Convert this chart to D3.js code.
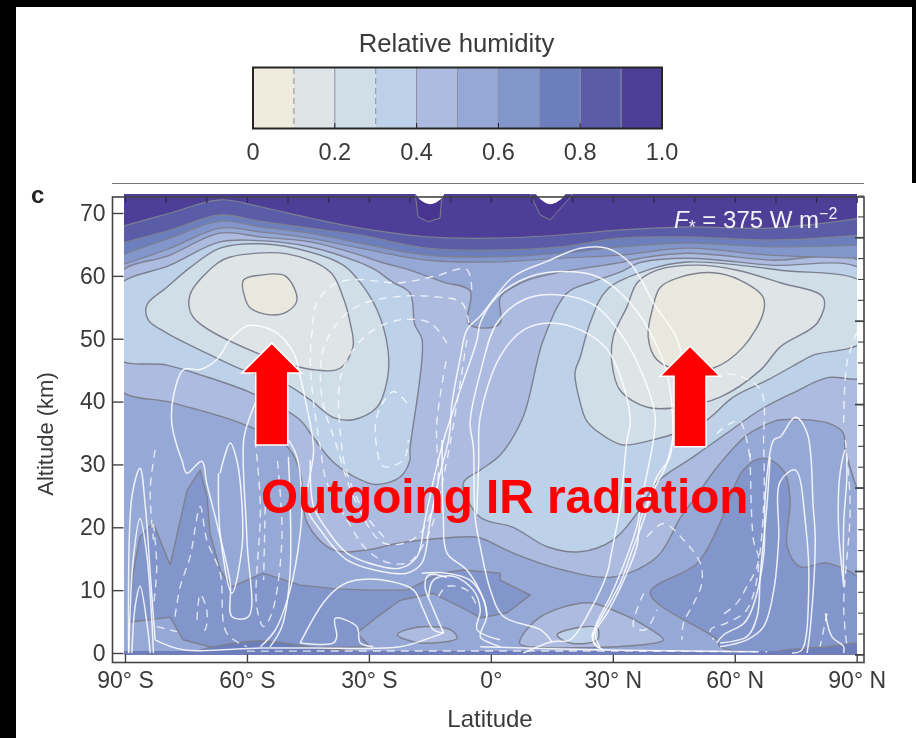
<!DOCTYPE html>
<html>
<head>
<meta charset="utf-8">
<script src="https://cdn.jsdelivr.net/npm/d3@7"></script>
<style>
  html, body { margin: 0; padding: 0; background: #fff; }
  svg { display: block; font-family: "Liberation Sans", Arial, sans-serif; }
</style>
</head>
<body>
<div id="chart"></div>
<script>
const binEdges = [0, 0.1, 0.2, 0.3, 0.4, 0.5, 0.6, 0.7, 0.8, 0.9, 1]
const binColors = ['#f0ebdd', '#dfe4e6', '#d0dee8', '#bdd2e8', '#acbbdf', '#96a8d6', '#8296cb', '#6c7fbc', '#5a5ca8', '#4d3f98']
const legendTicks = [0, 0.2, 0.4, 0.6, 0.8, 1]
const legendLabels = ['0', '0.2', '0.4', '0.6', '0.8', '1.0']
const latTicks = [-90, -60, -30, 0, 30, 60, 90]
const latLabels = ['90° S', '60° S', '30° S', '0°', '30° N', '60° N', '90° N']
const latMinor = [-90, -80, -70, -60, -50, -40, -30, -20, -10, 0, 10, 20, 30, 40, 50, 60, 70, 80, 90]
const altTicks = [0, 10, 20, 30, 40, 50, 60, 70]

// contours are [latitude, altitude km]
const topLats = [-91, -78.9, -66.6, -56.8, -44.5, -32.2, -15.7, 0.6, 17.1, 31.8, 48.3, 68.7, 91]
const top09 = [67.8, 70.0, 72.1, 71.0, 69.2, 67.6, 66.2, 66.0, 66.5, 67.3, 67.8, 67.6, 69.2]
const top08 = [65.2, 67.3, 69.7, 68.7, 67.6, 66.5, 64.4, 64.1, 64.6, 66.0, 66.2, 65.7, 66.5]
const top07 = [63.3, 66.0, 68.7, 67.8, 66.8, 65.2, 63.3, 63.0, 63.6, 64.6, 65.2, 64.6, 64.9]
const top06 = [61.7, 64.4, 67.6, 67.0, 66.0, 64.4, 62.5, 62.2, 62.8, 63.3, 64.4, 63.3, 62.8]

const ge06Left = [[-88,12.7],[-86.3,18.5],[-83.1,20.7],[-78.9,14],[-74.7,25.9],[-71.5,29.1],[-69.8,24.8],[-69.1,19.1],[-66.6,13.2],[-63.7,10.5],[-60,11.6],[-56,12.7],[-46.9,10.8],[-38,10.2],[-30.4,10],[-20.6,10],[-12.5,12.7],[-6.8,13.2],[2.3,12.7],[2.3,11.6],[9.7,9.2],[4,6.4],[-2.6,5.6],[-5.8,6.8],[-14.2,9.5],[-22.3,8.4],[-28,5.7],[-32.9,3.2],[-29.7,1],[-46.9,0.8],[-69.1,1],[-75.7,2.1],[-78.9,5.7],[-89.2,4.9]]
const ge06Right = [[39.2,9.5],[50.8,14.3],[56.4,20.7],[62.1,29.1],[67,31],[71.9,29.1],[73.6,24.3],[72.9,16.9],[76.1,13.7],[82.8,14.3],[92,10.8],[92,1],[56.4,1],[55.7,2.1]]
const lt05Main = [[-92,60],[-78.9,63.3],[-66.6,66.8],[-56.8,66.2],[-44.5,65.4],[-32.2,63.3],[-27.2,62.2],[-19.9,60.9],[-11.7,59],[-5.1,57.6],[-5.6,52.5],[-0.9,51.7],[2.3,52.5],[2.3,56.6],[5.5,58.2],[8.9,59.3],[17.1,60.6],[31.8,62.1],[36.7,62.8],[48.3,63.6],[68.7,62.5],[92,61.7],[92,23.9],[87.2,32.3],[86.7,35],[82.8,36.6],[71.2,37.1],[69.5,36.8],[63.1,34.7],[55.7,29.6],[49.8,24.3],[46.6,21.5],[40.9,15.3],[30.1,12.1],[17.8,13.2],[5.5,15.9],[-2.6,18.3],[-5.8,18.5],[-22.3,17.5],[-30.4,16.4],[-38.8,16.4],[-45.2,20.7],[-46.9,28.6],[-50.1,32.8],[-61.7,36.6],[-78.2,39.8],[-92,42.3]]
const lt05IslandRight = [[7.2,2.1],[12.1,5.7],[23.7,8],[30.1,6.8],[38.5,4.1],[42.4,2.1],[38.5,1.4],[7.2,1.4]]
const lt05IslandLeft = [[-23,2.9],[-18.1,4.1],[-10,3.7],[-8.3,2.4],[-17.4,1.6]]
const lt04Left = [[-92,58.1],[-78.9,61.7],[-66.6,65.4],[-56.8,65.6],[-44.5,64.6],[-32.2,62.1],[-28.3,60.9],[-24.2,59],[-19.9,57.3],[-18.7,52.2],[-16.9,49.8],[-19.9,32.3],[-19.9,30.7],[-22.3,28],[-28,26.8],[-32.2,27.6],[-38.8,30.4],[-43.8,34.4],[-47,37.1],[-58.7,41.3],[-71.7,44.3],[-79.7,45.8],[-92,47]]
const lt04Right = [[18.8,57.3],[24.4,58.9],[31.8,60.6],[36.7,62.1],[48.3,62.8],[68.7,61.7],[92,60.6],[92,44.1],[82.8,43.8],[74.4,41.4],[66.3,38.7],[58.1,35],[49.8,31.2],[40.9,27.2],[36,22.3],[30.1,18],[22,16.1],[13.9,16.9],[5.5,20],[-2.6,21.6],[-6.8,27],[-2.6,29.1],[2.3,31.5],[7.9,37.5],[12.9,49.8]]
const lt04Island = [[16.3,2.9],[22,4.1],[26.2,4],[26.2,2.1],[19.5,1.6]]
const lt03Left = [[-84.6,55.4],[-79.7,58.2],[-74,61.3],[-66.6,64.4],[-56.8,65.1],[-44.5,63.8],[-36.3,61.7],[-32.2,59],[-28,54.6],[-25.3,48.2],[-25.5,43.4],[-28,39.1],[-33.9,37.1],[-38.8,37.5],[-44.5,40.3],[-51.1,43],[-60.9,45],[-71.5,48.2],[-79.7,50.9],[-84.3,53]]
const lt03Right = [[28.6,57.8],[38.5,60.9],[48.3,62.2],[71.2,60.9],[92,58.6],[92,49.8],[79.3,47.4],[76.9,46.6],[68,43.4],[59.6,40.7],[53.2,37.1],[46.6,35.2],[39.9,33.9],[32.6,33.1],[28.6,34.2],[23.7,36.8],[22,39.8],[20.7,44.6],[22,47.1],[24.4,52.5]]
const lt02Left = [[-74,57],[-67.3,62],[-64.1,63],[-50.1,63.5],[-39.5,60.6],[-36.3,56.5],[-34.6,52.5],[-33.9,48.7],[-37.1,45.3],[-42.7,45],[-57.5,47.7],[-73.3,53.5]]
const lt02Right = [[29.8,46.1],[30.1,50.3],[33.5,55.1],[36,58.9],[40.9,60.9],[50.8,61.7],[60.6,60.9],[71.2,58.9],[81.8,56.5],[80.3,52.5],[71.2,48.7],[66.3,45],[56.4,40.7],[46.6,39.1],[38.5,39.1],[31.8,41.8]]
const lt01Left = [[-60.9,59.3],[-56.8,60.1],[-50.6,60],[-47.7,56.2],[-50.1,54.3],[-54.3,53.8],[-59.2,54.9],[-60.5,56.5]]
const lt01Right = [[41.7,58.2],[46.6,59.8],[54.7,60.5],[61.4,59.3],[67,56.6],[67,54.1],[62.1,48.7],[54.7,45.3],[46.6,45],[40.9,46.6],[38.7,50.3],[39.9,55.1]]
const lensLeft = [[-72.3,0.2],[-57.5,1.9],[-42.7,0.8],[-30.4,0],[-50,-0.6]]
const lensRight = [[69.5,0],[82.8,1],[92,1.3],[92,-0.6],[69.5,-0.6]]
const bottomStrip = [[-92,0.3],[92,0.3],[92,-0.6],[-92,-0.6]]
const darkPatchA = [[-18.6,73],[-17.9,69.4],[-15.4,68.6],[-12.5,69.2],[-12,73]]
const darkPatchB = [[9.7,73],[12.1,69.7],[14.6,68.9],[20.2,73]]
const whiteNotchA = [[-18.4,73.2],[-17.4,72.1],[-14.9,71.4],[-12.5,72.1],[-11.5,73.2]]
const whiteNotchB = [[11.1,73.2],[12.4,72.1],[14.6,71.4],[17.1,72.1],[18.3,73.2]]

// streamlines
const solidA = [[26.9,0.8],[25.7,3.2],[28.6,6.3],[32.7,11.6],[35.9,16.9],[36.8,21.2],[40.9,27],[43.3,30.2],[46.6,48.3],[40,55.7],[34.3,62],[28.6,64.4],[22,64.4],[13.8,62.3],[5.6,59.9],[-2.6,53.6],[-5.9,51.4],[-7.5,47],[-9.5,40],[-10.4,33.9],[-12.5,28.6],[-14.9,21.2],[-17,14.3],[-20.7,12.7],[-27.2,13],[-35.4,14.8],[-42,19.6],[-45.3,23.3],[-43.6,32.4],[-45.3,39.2],[-46.9,44],[-48.5,47.7],[-52.6,50.9],[-56.7,52],[-60,52],[-64.1,49.9],[-67.4,46.7],[-71.5,45.1],[-75.6,45.1],[-78.1,40.8],[-78.5,36.6],[-77.2,32.9],[-76,30.7],[-74.8,28.6],[-71.1,30.5],[-69.9,27],[-67.4,20.6],[-64.1,11.1],[-63.7,5.8],[-59.6,5.8],[-60,18],[-60.8,33.9],[-59.2,37.7],[-57.6,40.3]]
const solidB = [[26.5,0.8],[24.9,2.6],[26.9,5.3],[31.8,11.1],[35.1,16.9],[37.6,21.2],[40.9,28.1],[44.1,31.3],[44.1,41.9],[40.9,48.8],[34.3,55.7],[26.1,59.9],[17.9,60.7],[9.7,59.9],[1.5,56.7],[-2.6,52.5],[-3.4,49.8],[-7.5,41.9],[-11.6,33.9],[-13.7,28.6],[-16.2,21.2],[-18.2,15.3],[-22.3,13.5],[-27.2,13.8],[-35.4,15.9],[-40.3,19.6],[-43.6,23.3],[-44.4,30.7]]
const solidC = [[27.7,0.5],[25.3,1.6],[25.7,4.2],[29.4,9],[33.5,15.4],[35.9,20.1],[37.6,26],[40,33.9],[40.4,37.7],[36.8,45.1],[31.8,50.9],[25.3,55.4],[16.3,57],[8.1,56.2],[1.5,52.5],[-2.6,44.6],[-5.1,36.6],[-4.3,32.8],[-3.9,21.7],[-2.6,16.9],[-0.1,10],[3.1,5.8],[12.2,3.7],[15,1.8]]
const solidD = [[8,0],[15,1.8],[19.5,2.1],[24.5,6.9],[28.6,12.7],[29.8,16.4],[31.8,23.3],[33.5,33.9],[34.3,36.6],[32.7,42.4],[28.6,48.3],[22,51.4],[14.6,52.5],[8.1,51.4],[2.3,47.2],[-2.6,37.7],[-3,30],[-3.5,22]]
const solidE = [[-12,33.9],[-11.7,21.7],[-10.8,15.9],[-5.9,13.2],[-1.8,8.5],[-1,5.8],[-2.6,2.6],[-0.2,1.6],[2.3,1]]
const pairA = [[-56.7,1],[-53,3.7],[-49.4,10],[-46.9,19],[-46.5,23.3],[-47.7,31.2],[-49.8,33.9]]
const pairB = [[-54.3,1],[-51.4,4.2],[-49.4,12.7],[-49.8,31.2]]
const tangleA = [[-17,12.7],[-10.8,12.7],[-5.1,11.6],[-1.8,8.5],[-1,5.8]]
const tangleB = [[-15.3,9],[-14.1,11.6],[-9.2,12.2],[-4.3,10],[-2.6,6.9],[-3.4,3.7],[2.3,2.1]]
const tangleC = [[-11.6,3.2],[-14.1,6.9],[-16.2,10.6],[-15.3,12.4],[-10.8,12]]
const floorLine = [[-11.6,3.2],[-14.1,2.6],[-22.3,1],[-43.6,0.8],[-56.7,0.8],[-75.6,0.5],[-82.6,2.1]]
const floorLineRight = [[-2.6,1],[26.1,0.5],[65.4,0.2]]
const humpA = [[-46.9,1.6],[-41.2,8],[-37.1,10.6],[-33,11.6],[-24.8,11.4],[-19,10],[-16.6,6.9],[-14.1,3.7],[-11.6,3.2]]
const humpB = [[-46.9,1.6],[-38.7,1.6],[-37.9,2.6],[-38.3,5.5],[-33,4.2],[-32.1,1.6],[-28.9,1]]
const spikeA = [[-89.1,0],[-88.3,24.9],[-86.3,29.4],[-85,23.3],[-83.8,12.7],[-82.6,2.1]]
const spikeB = [[-89.1,0],[-87.9,15.4],[-86.3,21.4],[-84.6,15.4],[-83,0]]
const spikeC = [[-88.3,0],[-87.5,7.4],[-86.3,10.6],[-84.6,4.7],[-83.8,0]]
const tipLoop = [[-66.6,28.6],[-64.1,33.4],[-62.5,30.7],[-61.2,23.3],[-61.2,16.9],[-63.7,9.5],[-66.6,19],[-67,28.6]]
const rightOuter = [[55.6,1.6],[57.3,2.9],[62.2,4.7],[64.2,6.9],[67.1,15.4],[67.5,24.9],[69.6,33.9],[71.2,34.4],[74.9,37.5],[77.8,35],[79.3,23.2],[79.8,18],[78.6,4.1],[77.8,0]]
const rightMiddle = [[56.4,1.6],[63,2.6],[65.5,5.8],[66.3,12.7],[67.9,23.3],[68.7,31.2]]
const rightInner = [[56.4,1],[63,2.1],[67.1,4.2],[69.6,10],[70.8,18],[71.2,27.3],[74.9,29.1],[77.4,20.6],[78.2,10],[76.5,0.5],[74.1,0]]
const edgeLoop = [[86.8,10.6],[85.5,20.6],[85.9,28.6],[87.2,32.3],[87.6,28.6],[86.8,20.6],[86.8,10.6]]
const edgeHook = [[82.3,6.3],[83.9,2.6],[86.8,1],[86.8,0]]
const solidLines = [solidA, solidB, solidC, solidD, solidE, pairA, pairB, tangleA, tangleB, tangleC, floorLine, floorLineRight, humpA, humpB, spikeA, spikeB, spikeC, tipLoop, rightOuter, rightMiddle, rightInner, edgeLoop, edgeHook]

const dashA = [[-4.7,57.8],[-5.9,61],[-14.1,59.9],[-22.3,58.9],[-33.8,59.4],[-38.7,58.6],[-42.8,55.7],[-44,50.9],[-44.4,46.1],[-43.6,39.8],[-42,32.9],[-40.3,27],[-35.4,21.2],[-30.5,16.4],[-24.8,14.3],[-19.8,14.6],[-14.9,19.6],[-10.8,30.7],[-5.9,49.8]]
const dashB = [[-5.5,52.5],[-7.1,55.7],[-14.1,56.7],[-23.1,56.7],[-32.1,55.4],[-37.1,53],[-41.2,48.3],[-41.6,40.8],[-37.9,32.9],[-33.8,24.9],[-26.4,17.5],[-18.2,18.5],[-13.3,25.9],[-13.3,36.6],[-10.8,47.2]]
const dashC = [[-10.8,49.3],[-14.9,52.5],[-22.3,53],[-28.9,51.4],[-33.8,48.3],[-37.1,43.5],[-36.7,32.9],[-35.4,28.6],[-30.5,21.7],[-25.6,18]]
const dashD = [[-20.7,39.8],[-24,41.6],[-28,37.7],[-28,32.4],[-26.4,29.7],[-21.5,30.7],[-20.3,33.9]]
const dashE = [[-58,33.9],[-56.7,23.3],[-57.6,7.4],[-55.9,4.2],[-53.9,6.3],[-51.4,18],[-52.6,31.2]]
const dashF = [[-55.5,23.3],[-55.9,11.6]]
const dashG = [[-82.6,32.3],[-83.8,25.9],[-83,18]]
const dashH = [[-77.7,5.8],[-76.4,10.6],[-74,15.3],[-71.5,23.3],[-69.9,18],[-66.6,12.7],[-65,3.2],[-60,1]]
const dashI = [[-72.3,5.3],[-71.5,9.3],[-69.9,6.9],[-70.3,3.7],[-72,3.2]]
const dashJ = [[-82.2,4.2],[-77.2,3.4]]
const dashK = [[-83,20.6],[-82.2,13.8],[-83,7.4]]
const dashM = [[38.4,18.5],[42.5,20.6],[47.4,18],[51.5,14.3],[51.9,11.1],[49.9,7.9],[47.4,4.8],[47,2.1]]
const dashN = [[54.8,44],[59.7,44.3],[66.3,41.9],[67.1,33.4],[67.1,23.3],[65.5,13.8],[63,10.6],[60.5,7.9],[56.4,5.8]]
const dashO = [[63.8,31.8],[64.6,18],[65.9,14.8],[63,6.9],[58.1,4.8],[54,3.7],[54.8,2.1]]
const dashP = [[37.6,9.5],[35.1,4.2],[38,3.7],[40.9,6.9]]
const dashQ = [[55.6,34.9],[58.8,36.5],[61.3,36.8],[63.8,30.7]]
const dashR = [[87.2,33.9],[88.4,23.3],[86.8,7.4],[87.6,1]]
const dashS = [[82.7,6.3],[81,1]]
const dashT = [[90,51],[87.6,46.1],[86.8,36.6]]
const dashU = [[-12.9,9],[-10.8,10.6],[-5.9,10],[-3.4,7.4]]
const dashFloor = [[-60,0.3],[30,0.3],[68,0.2]]
const dashedLines = [dashA, dashB, dashC, dashD, dashE, dashF, dashG, dashH, dashI, dashJ, dashK, dashM, dashN, dashO, dashP, dashQ, dashR, dashS, dashT, dashU, dashFloor]

const arrowLats = [-53.9, 49]
const arrowTips = [49.3, 48.8]
const arrowTails = [33.1, 32.8]

const WIDTH = 916
const HEIGHT = 738
const INK = '#3a3a3a'
const LINE = '#7d8090'

const svg = d3.select('#chart').append('svg')
  .attr('width', WIDTH)
  .attr('height', HEIGHT)

svg.append('rect').attr('width', WIDTH).attr('height', HEIGHT).attr('fill', '#fff')

const x = d3.scaleLinear().domain([-90, 90]).range([125, 856.7])
const y = d3.scaleLinear().domain([0, 70]).range([653, 213])

const closed = d3.line().x(d => x(d[0])).y(d => y(d[1])).curve(d3.curveCatmullRomClosed.alpha(0.5))
const straight = d3.line().x(d => x(d[0])).y(d => y(d[1]))
const open = d3.line().x(d => x(d[0])).y(d => y(d[1])).curve(d3.curveCatmullRom.alpha(0.5))

svg.append('defs').append('clipPath').attr('id', 'plot')
  .append('rect')
    .attr('x', 124)
    .attr('y', 194)
    .attr('width', 733)
    .attr('height', 461)

const chart = svg.append('g').style('filter', 'blur(0.45px)')

// legend
const legendX = d3.scaleLinear().domain([0, 1]).range([253, 662])
const legend = chart.append('g')

legend.selectAll('rect.bin')
  .data(binColors)
  .enter().append('rect')
    .attr('class', 'bin')
    .attr('x', (d, i) => legendX(binEdges[i]))
    .attr('y', 68)
    .attr('width', (d, i) => legendX(binEdges[i + 1]) - legendX(binEdges[i]))
    .attr('height', 60)
    .attr('fill', d => d)

legend.selectAll('line.sep')
  .data(binEdges.slice(1, -1))
  .enter().append('line')
    .attr('class', 'sep')
    .attr('x1', d => legendX(d))
    .attr('x2', d => legendX(d))
    .attr('y1', 68)
    .attr('y2', 128)
    .attr('stroke', '#8a8f9c')
    .attr('stroke-width', 1)
    .attr('stroke-dasharray', d => (d === 0.1 || d === 0.3) ? '6 4' : null)

legend.selectAll('line.tick')
  .data(legendTicks.slice(1, -1))
  .enter().append('line')
    .attr('class', 'tick')
    .attr('x1', d => legendX(d))
    .attr('x2', d => legendX(d))
    .attr('y1', 123)
    .attr('y2', 128)
    .attr('stroke', '#222')

legend.append('rect')
  .attr('x', 253)
  .attr('y', 67.5)
  .attr('width', 409)
  .attr('height', 61)
  .attr('fill', 'none')
  .attr('stroke', '#262626')
  .attr('stroke-width', 2)

legend.selectAll('text.lab')
  .data(legendTicks)
  .enter().append('text')
    .attr('class', 'lab')
    .attr('x', d => legendX(d))
    .attr('y', 160)
    .attr('text-anchor', 'middle')
    .attr('font-size', 23.5)
    .attr('fill', INK)
    .text((d, i) => legendLabels[i])

legend.append('text')
  .attr('x', 456.5)
  .attr('y', 52)
  .attr('text-anchor', 'middle')
  .attr('font-size', 25.7)
  .attr('fill', INK)
  .text('Relative humidity')

chart.append('line')
  .attr('x1', 112)
  .attr('x2', 864)
  .attr('y1', 183.5)
  .attr('y2', 183.5)
  .attr('stroke', '#777')

chart.append('text')
  .attr('x', 31)
  .attr('y', 203)
  .attr('font-size', 24)
  .attr('font-weight', 'bold')
  .attr('fill', '#222')
  .text('c')

// filled bands, painted from the base colour up
const plot = chart.append('g').attr('clip-path', 'url(#plot)')

plot.append('rect')
  .attr('x', x(-92))
  .attr('y', y(74))
  .attr('width', x(92) - x(-92))
  .attr('height', y(-1) - y(74))
  .attr('fill', binColors[5])

const bands = [
  [ge06Left, binColors[6], true],
  [ge06Right, binColors[6]],
  [lensLeft, binColors[7]],
  [lensRight, binColors[7]],
  [lt05Main, binColors[4]],
  [lt05IslandLeft, binColors[4]],
  [lt05IslandRight, binColors[4]],
  [lt04Left, binColors[3]],
  [lt04Right, binColors[3]],
  [lt04Island, binColors[3]],
  [lt03Left, binColors[2]],
  [lt03Right, binColors[2]],
  [lt02Left, binColors[1]],
  [lt02Right, binColors[1]],
  [lt01Left, '#e9e8df'],
  [lt01Right, '#e9e8df']
]

plot.selectAll('path.band')
  .data(bands)
  .enter().append('path')
    .attr('class', 'band')
    .attr('d', d => d[2] ? straight(d[0]) + 'Z' : closed(d[0]))
    .attr('fill', d => d[1])
    .attr('stroke', LINE)
    .attr('stroke-width', 1.4)
    .attr('stroke-linejoin', 'round')

const topBands = [[top06, binColors[6]], [top07, binColors[7]], [top08, binColors[8]], [top09, binColors[9]]]

plot.selectAll('path.top')
  .data(topBands)
  .enter().append('path')
    .attr('class', 'top')
    .attr('d', d => {
      const pts = topLats.map((lat, i) => [lat, d[0][i]])
      return open(pts) + 'L' + x(92) + ',' + y(75) + 'L' + x(-92) + ',' + y(75) + 'Z'
    })
    .attr('fill', d => d[1])
    .attr('stroke', LINE)
    .attr('stroke-width', 1.2)

plot.selectAll('path.patch')
  .data([darkPatchA, darkPatchB])
  .enter().append('path')
    .attr('class', 'patch')
    .attr('d', d => straight(d) + 'Z')
    .attr('fill', '#483592')
    .attr('stroke', LINE)

plot.append('path')
  .attr('d', straight(bottomStrip) + 'Z')
  .attr('fill', '#6f7dba')

plot.selectAll('path.solid')
  .data(solidLines)
  .enter().append('path')
    .attr('class', 'solid')
    .attr('d', d => open(d))
    .attr('fill', 'none')
    .attr('stroke', '#fff')
    .attr('stroke-opacity', 0.85)
    .attr('stroke-width', 1.5)

plot.selectAll('path.dashed')
  .data(dashedLines)
  .enter().append('path')
    .attr('class', 'dashed')
    .attr('d', d => open(d))
    .attr('fill', 'none')
    .attr('stroke', '#fff')
    .attr('stroke-opacity', 0.75)
    .attr('stroke-width', 1.4)
    .attr('stroke-dasharray', '8 6')

plot.selectAll('path.notch')
  .data([whiteNotchA, whiteNotchB])
  .enter().append('path')
    .attr('class', 'notch')
    .attr('d', d => closed(d))
    .attr('fill', '#fff')

// frame and axes
const frame = chart.append('g')

frame.append('rect')
  .attr('x', 112.5)
  .attr('y', 197)
  .attr('width', 751.5)
  .attr('height', 465.5)
  .attr('fill', 'none')
  .attr('stroke', '#444')
  .attr('stroke-width', 1.6)

const xAxisCall = d3.axisBottom(x)
  .tickValues(latTicks)
  .tickFormat((d, i) => latLabels[i])
  .tickSize(-8)
  .tickPadding(9)
frame.append('g')
  .attr('transform', 'translate(0, 662.5)')
  .call(xAxisCall)
  .call(g => g.select('.domain').remove())
  .call(g => g.selectAll('line').attr('stroke', '#444').attr('stroke-width', 1.4))
  .call(g => g.selectAll('text').attr('font-size', 23).attr('font-family', null).attr('fill', INK))

const yAxisCall = d3.axisLeft(y)
  .tickValues(altTicks)
  .tickSize(-11)
  .tickPadding(7)
frame.append('g')
  .attr('transform', 'translate(112.5, 0)')
  .call(yAxisCall)
  .call(g => g.select('.domain').remove())
  .call(g => g.selectAll('line').attr('stroke', '#444').attr('stroke-width', 1.4))
  .call(g => g.selectAll('text').attr('font-size', 23).attr('font-family', null).attr('fill', INK))

const xTopCall = d3.axisTop(x).tickValues(latMinor).tickSize(-6).tickFormat('')
frame.append('g')
  .attr('transform', 'translate(0, 197)')
  .call(xTopCall)
  .call(g => g.select('.domain').remove())
  .call(g => g.selectAll('line').attr('stroke', '#2c2a4a').attr('stroke-width', 1.2))

// right axis is on another scale, one long tick in four
const rightTicks = d3.range(0, 23).map(i => -0.3 + i * 3.318)
frame.selectAll('line.right')
  .data(rightTicks)
  .enter().append('line')
    .attr('class', 'right')
    .attr('x1', 864)
    .attr('x2', (d, i) => i % 4 === 0 ? 855 : 858)
    .attr('y1', d => y(d))
    .attr('y2', d => y(d))
    .attr('stroke', '#444')
    .attr('stroke-width', (d, i) => i % 4 === 0 ? 1.8 : 1.1)

chart.append('text')
  .attr('x', 490)
  .attr('y', 727)
  .attr('text-anchor', 'middle')
  .attr('font-size', 24)
  .attr('fill', INK)
  .text('Latitude')

chart.append('text')
  .attr('transform', 'translate(53, 434) rotate(-90)')
  .attr('text-anchor', 'middle')
  .attr('font-size', 22)
  .attr('fill', INK)
  .text('Altitude (km)')

const flux = chart.append('text')
  .attr('x', 674)
  .attr('y', 228)
  .attr('font-size', 24)
  .attr('fill', '#f2f3fa')
flux.append('tspan').attr('font-style', 'italic').text('F')
flux.append('tspan').attr('font-size', 18).attr('dy', 5).text('*')
flux.append('tspan').attr('dy', -5).text(' = 375 W m')
flux.append('tspan').attr('font-size', 16).attr('dy', -9).text('−2')

// annotations added on top of the figure
const arrowPath = i => {
  const cx = x(arrowLats[i])
  const tip = y(arrowTips[i])
  const tail = y(arrowTails[i])
  return [
    [cx, tip], [cx + 30, tip + 30], [cx + 16, tip + 30], [cx + 16, tail],
    [cx - 16, tail], [cx - 16, tip + 30], [cx - 30, tip + 30]
  ].map((p, k) => (k ? 'L' : 'M') + p[0] + ',' + p[1]).join('') + 'Z'
}

svg.selectAll('path.arrow')
  .data(arrowLats)
  .enter().append('path')
    .attr('class', 'arrow')
    .attr('d', (d, i) => arrowPath(i))
    .attr('fill', '#ff0000')
    .attr('stroke', '#fff')
    .attr('stroke-width', 1.5)

svg.append('text')
  .attr('x', 261)
  .attr('y', 513)
  .attr('font-size', 47.7)
  .attr('font-weight', 'bold')
  .attr('fill', '#ff0000')
  .text('Outgoing IR radiation')

// black edges of the screenshot
svg.append('rect').attr('x', 0).attr('y', 0).attr('width', WIDTH).attr('height', 7).attr('fill', '#000')
svg.append('rect').attr('x', 0).attr('y', 0).attr('width', 16).attr('height', HEIGHT).attr('fill', '#000')
svg.append('rect').attr('x', 912).attr('y', 0).attr('width', 4).attr('height', 183).attr('fill', '#000')
</script>
</body>
</html>
